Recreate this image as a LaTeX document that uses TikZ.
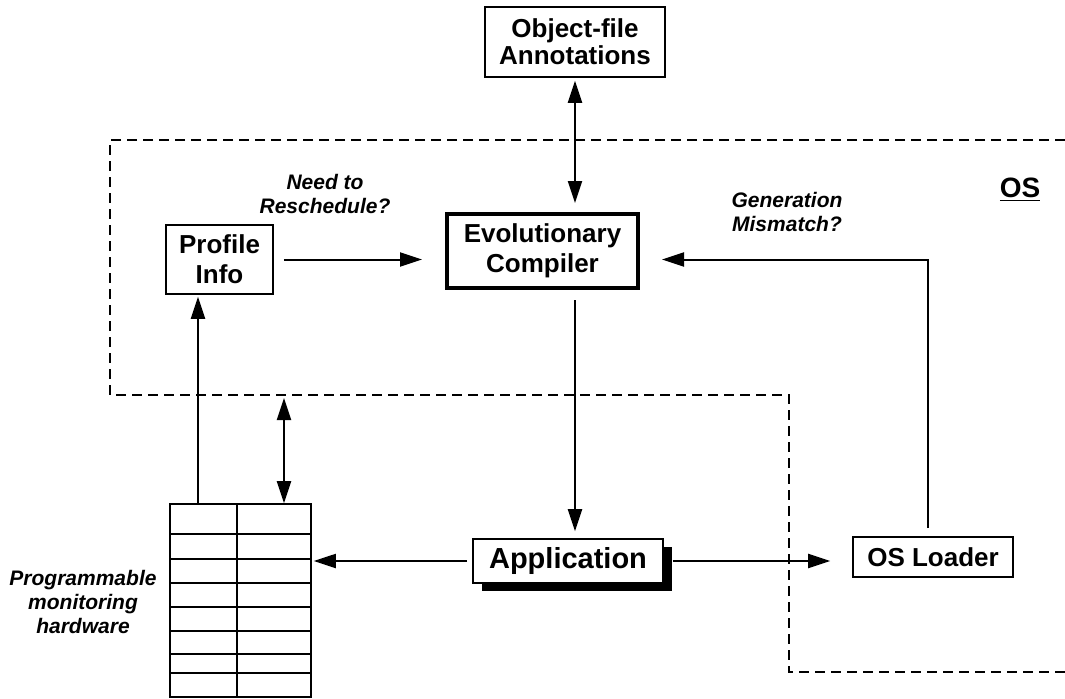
\documentclass[tikz,border=0pt]{standalone}
\usepackage{fontspec}
\setmainfont{Liberation Sans}
\usetikzlibrary{arrows.meta,shadows}

\begin{document}
\begin{tikzpicture}[x=.5pt,y=-.5pt,font=\bfseries\fontsize{13}{15}\selectfont,
box/.style={draw,line width=.8pt,fill=white,align=center,inner sep=2pt},
arr/.style={-{Triangle[length=11pt,width=7pt]},line width=1pt},
both/.style={{Triangle[length=11pt,width=7pt]}-{Triangle[length=11pt,width=7pt]},line width=1pt},
note/.style={font=\bfseries\itshape\fontsize{10.5}{12}\selectfont,align=center},
osline/.style={dash pattern=on 5pt off 3pt,line width=.8pt}]
\useasboundingbox (0,0) rectangle (1065,698);

% OS boundary
\draw[osline] (1065,140) -- (110,140) -- (110,395) -- (789,395) -- (789,672) -- (1065,672);
\node (os) at (1020,190) {\fontsize{14}{16}\selectfont\underline{OS}};

\node[box,minimum width=90pt,minimum height=35pt,font=\bfseries\fontsize{13}{13.5}\selectfont](annot)at(575,42){Object-file\\Annotations};
\node[box,line width=2pt,minimum width=95.5pt,minimum height=37pt](comp)at(542.5,251){Evolutionary\\Compiler};
\node[box,minimum width=53.5pt,minimum height=34.5pt](prof)at(219.5,259.5){Profile\\Info};
\node[box,font=\bfseries\fontsize{14.5}{16}\selectfont,minimum width=95pt,minimum height=22pt,
  drop shadow={shadow xshift=4.5pt,shadow yshift=-4pt,fill=black,opacity=1}](app)at(568,561){Application};
\node[box,minimum width=80pt,minimum height=20pt](load)at(933,557){OS Loader};

% monitoring hardware table
\node[draw,line width=.8pt,minimum width=70.5pt,minimum height=96.5pt,inner sep=0pt](hw)at(240.5,600.5){};
\foreach \y in {534,559,583,607,631,654,673} \draw[line width=.8pt](170,\y)--(311,\y);
\draw[line width=.8pt](237,504)--(237,697);

\node[note](need)at(325,194){Need to\\Reschedule?};
\node[note](gen)at(787,212){Generation\\Mismatch?};
\node[note](prog)at(83,602){Programmable\\monitoring\\hardware};

\coordinate (hwup) at (198,504);
\coordinate (osgap) at (284,398);

\draw[both,shorten <=1.5pt,shorten >=4.5pt](annot.south)--(annot.south |- comp.north);
\draw[arr,shorten <=5pt,shorten >=11.5pt](prof.east)--(comp.west |- prof.east);
\draw[arr,shorten <=4pt,shorten >=11pt]([xshift=-2.5pt]load.north)|-(comp.east |- prof.east);
\draw[arr,shorten <=5pt,shorten >=3.5pt](comp.south -| annot.south)--(app.north -| annot.south);
\draw[arr,shorten <=2.5pt,shorten >=1pt](app.west)--(hw.east |- app.west);
\draw[arr,shorten <=4.5pt,shorten >=11pt](app.east)--(load.west |- app.east);
\draw[arr,shorten >=1pt](hwup)--(hwup |- prof.south);
\draw[both](osgap)--(osgap |- hw.north);
\end{tikzpicture}
\end{document}
